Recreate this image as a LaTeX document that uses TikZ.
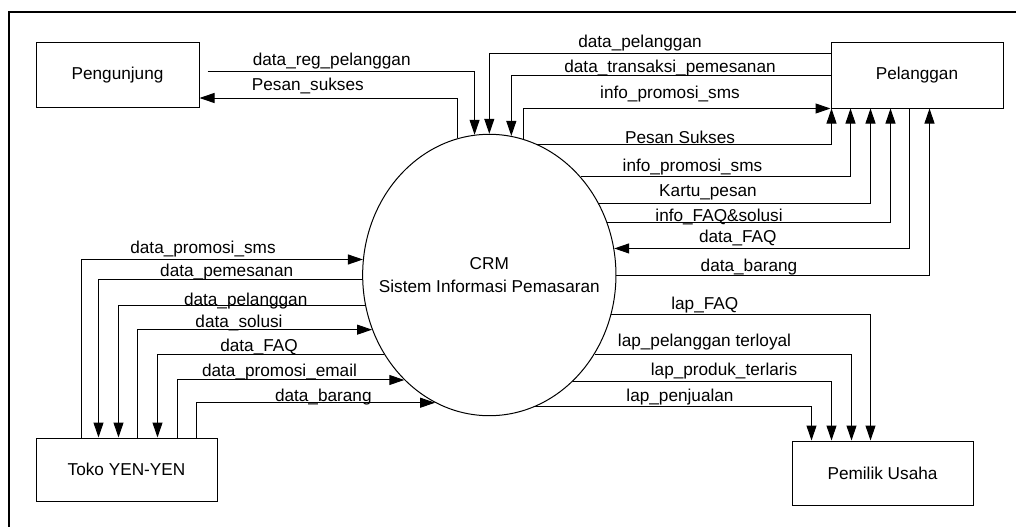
\documentclass[tikz,border=0pt]{standalone}
\usepackage{fontspec}
\setmainfont{Liberation Sans}
\usetikzlibrary{shapes.geometric,arrows.meta}

\tikzset{
  entitas/.style={draw, line width=1pt, inner sep=0pt},
  alir/.style={line width=1pt, -{Triangle[length=15pt,width=10pt]}},
  lbl/.style={anchor=base, inner sep=0pt},
}

\begin{document}
\begin{tikzpicture}[x=1pt, y=-1pt, font=\fontsize{17.2}{20}\selectfont]
		\useasboundingbox (0,0) rectangle (1016,527);
		\draw[line width=2pt] (1016,12.5) -- (9,12.5) -- (9,527);

		% entitas luar dan proses
		\node[entitas, minimum width=163pt, minimum height=64pt] (pgj) at (117.5,75) {Pengunjung};
		\node[entitas, minimum width=172pt, minimum height=65pt] (pel) at (917,75.5) {Pelanggan};
		\node[entitas, minimum width=181pt, minimum height=63pt] (tko) at (126.5,469.5) {Toko YEN-YEN};
		\node[entitas, minimum width=181pt, minimum height=64pt] (pmk) at (882.5,473) {Pemilik Usaha};
		\node[draw, ellipse, line width=1pt, inner sep=0pt, minimum width=253.3pt, minimum height=281.4pt] (crm) at (489.3,275) {};
		\node[align=center, font=\fontsize{17.2}{23.3}\selectfont] (crmtxt) at (crm.center) {CRM\\Sistem Informasi Pemasaran};

		% Pengunjung
		\draw[alir] ([xshift=8pt,yshift=4pt]pgj.east) -| (crm.96.8);
		\draw[alir] (crm.103.8) |- ([yshift=-23pt]pgj.east);
		\node[lbl] (l1) at (331.7,65) {data\_reg\_pelanggan};
		\node[lbl] (l2) at (307.8,90.7) {Pesan\_sukses};

		% Pelanggan
		\draw[alir] ([yshift=22pt]pel.west) -| (crm.north);
		\draw[alir] (pel.west) -| (crm.81.5);
		\draw[alir] (crm.76.2) |- (pel.south west);
		\draw[alir] (crm.70.3) -| ([xshift=1pt]pel.south west);
		\draw[alir] (crm.47) -| ([xshift=20pt]pel.south west);
		\draw[alir] (crm.33.6) -| ([xshift=40pt]pel.south west);
		\draw[alir] (crm.24.2) -| ([xshift=60pt]pel.south west);
		\draw[alir] ([xshift=79pt]pel.south west) |- (crm.12.6);
		\draw[alir] (crm.east) -| ([xshift=99pt]pel.south west);
		\node[lbl] (l3) at (640,47.7) {data\_pelanggan};
		\node[lbl] (l4) at (670,72.3) {data\_transaksi\_pemesanan};
		\node[lbl] (l5) at (670,98.7) {info\_promosi\_sms};
		\node[lbl] (l6) at (680,143.3) {Pesan Sukses};
		\node[lbl] (l7) at (692.5,171.7) {info\_promosi\_sms};
		\node[lbl] (l8) at (708,196) {Kartu\_pesan};
		\node[lbl] (l9) at (719,221) {info\_FAQ\&solusi};
		\node[lbl] (l10) at (737.8,242.7) {data\_FAQ};
		\node[lbl] (l11) at (749,271.7) {data\_barang};

		% Pemilik Usaha
		\draw[alir] (crm.342.1) -| ([xshift=79pt]pmk.north west);
		\draw[alir] (crm.323.6) -| ([xshift=60pt]pmk.north west);
		\draw[alir] (crm.308.8) -| ([xshift=40pt]pmk.north west);
		\draw[alir] (crm.289.7) -| ([xshift=20pt]pmk.north west);
		\node[lbl] (l12) at (704.8,309.3) {lap\_FAQ};
		\node[lbl] (l13) at (704.5,346.7) {lap\_pelanggan terloyal};
		\node[lbl] (l14) at (724,375.7) {lap\_produk\_terlaris};
		\node[lbl] (l15) at (680,401.7) {lap\_penjualan};

		% Toko YEN-YEN
		\draw[alir] ([xshift=46pt]tko.north west) |- (crm.173.7);
		\draw[alir] (crm.182.3) -| ([xshift=63pt]tko.north west);
		\draw[alir] (crm.194.9) -| ([xshift=83pt]tko.north west);
		\draw[alir] ([xshift=102pt]tko.north west) |- (crm.205.7);
		\draw[alir] (crm.217.9) -| ([xshift=122pt]tko.north west);
		\draw[alir] ([xshift=142pt]tko.north west) |- (crm.231.8);
		\draw[alir] ([xshift=161pt]tko.north west) |- (crm.247.9);
		\node[lbl] (l16) at (203,253.3) {data\_promosi\_sms};
		\node[lbl] (l17) at (226.7,276.7) {data\_pemesanan};
		\node[lbl] (l18) at (245.7,305) {data\_pelanggan};
		\node[lbl] (l19) at (239,327.7) {data\_solusi};
		\node[lbl] (l20) at (259,351.7) {data\_FAQ};
		\node[lbl] (l21) at (279.5,376) {data\_promosi\_email};
		\node[lbl] (l22) at (323.3,401.7) {data\_barang};
	\end{tikzpicture}
\end{document}
